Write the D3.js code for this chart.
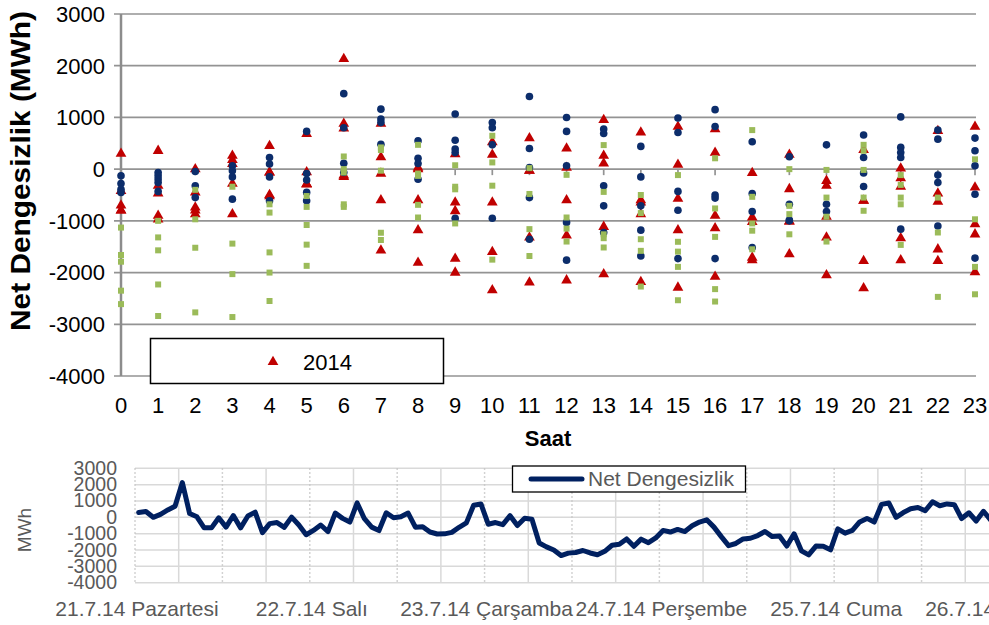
<!DOCTYPE html>
<html>
<head>
<meta charset="utf-8">
<script src="https://cdn.jsdelivr.net/npm/d3@7/dist/d3.min.js"></script>
<style>
  body { margin: 0; background: #fff; }
  svg { display: block; font-family: "Liberation Sans", Arial, sans-serif; }
</style>
</head>
<body>
<svg id="chart" width="989" height="625"></svg>
<script>
// saatler ve eksen degerleri
const hours = d3.range(24)
const topTicks = [3000, 2000, 1000, 0, -1000, -2000, -3000, -4000]
const bottomTicks = [3000, 2000, 1000, 0, -1000, -2000, -3000, -4000]
const dayLabels = ["21.7.14 Pazartesi", "22.7.14 Salı", "23.7.14 Çarşamba", "24.7.14 Perşembe", "25.7.14 Cuma", "26.7.14 Cumartesi"]

// mavi daireler (saat basina)
const blueByHour = [
  [-130, -280, -390, -450], [-65, -130, -190, -260, -430], [-45, -320, -550], [65, -30, -150, -580],
  [225, 100, -150, -610], [730, -85, -210, -450, -610], [1460, 800, 115, -65], [1160, 970, 900, 480],
  [550, 210, 110, -195], [1065, 560, 390, 320, -950], [900, 800, 470, -950], [1405, 400, 30, -550, -1355],
  [1000, 730, 65, -1030, -1760], [775, 690, -320, -710, -1225], [440, -150, -710, -1180, -1680], [990, 710, -430, -795, -1730],
  [1150, 825, -500, -560, -1730], [530, -470, -820, -1515], [240, -680, -1000, -985], [470, -680, -820],
  [660, 225, -75, -335], [1010, 420, 320, 225, -1160], [755, 580, -115, -260, -1100], [600, 355, 65, -485, -1720]
]

// yesil kareler (saat basina)
const greenByHour = [
  [-1130, -1660, -1790, -2350, -2610], [-1000, -1320, -1570, -2230, -2840], [-400, -970, -1520, -2770], [-340, -1440, -2030, -2860],
  [-680, -840, -1610, -2000, -2550], [-520, -730, -1080, -1460, -1870], [245, 0, -65, -680, -730], [420, 370, -30, -1230, -1370],
  [470, -85, -130, -690, -935], [75, -340, -390, -1050], [645, 130, -320, -1750], [20, -480, -1160, -1680],
  [-110, -935, -1150, -1400], [465, -440, -1260, -1335, -1515], [-500, -850, -1355, -1580, -2270], [-115, -1405, -1595, -1890, -2535],
  [210, -760, -1310, -2320, -2560], [755, -535, -1050, -1190, -1550], [0, -710, -870, -1260], [-15, -550, -920, -1400],
  [470, 355, -15, -550, -805], [-115, -305, -550, -680, -1465], [-550, -1225, -2470], [190, -970, -1890, -2420]
]

// 2014 net dengesizlik, saatlik (21-25.7.14)
const mon2014 = [300, 355, 0, 180, 450, 680, 2130, 230, 30, -645, -645, -30, -600, 110, -645, 85, 320, -935, -385, -320, -610, 15, -470, -1065]
const tue2014 = [-800, -470, -870, 260, -65, -290, 880, -85, -600, -810, 280, -30, 30, 260, -600, -570, -900, -1020, -1010, -920, -610, -340, 740, 820]
const wed2014 = [-420, -320, -450, 100, -500, -60, -120, -1570, -1810, -2000, -2340, -2190, -2150, -2030, -2180, -2290, -2080, -1710, -1645, -1320, -1775, -1335, -1550, -1260]
const thu2014 = [-800, -900, -740, -870, -520, -290, -150, -600, -1180, -1730, -1600, -1320, -1280, -1115, -870, -1180, -1140, -1760, -1010, -2050, -2300, -1760, -1775, -1990]
const fri2014 = [-700, -970, -800, -280, -65, -290, 790, 880, 0, 290, 520, 600, 400, 950, 710, 820, 775, -75, 280, -225, 370, -175, -630, -355]
const week2014 = [].concat(mon2014, tue2014, wed2014, thu2014, fri2014)

const svg = d3.select("#chart")
const navy = "#0c2d6b", red = "#c00000", green = "#9bbb59", navyLine = "#002060"

// ---------- ust grafik ----------
const x = d3.scaleLinear().domain([0, 23]).range([121, 975])
const y = d3.scaleLinear().domain([-4000, 3000]).range([376, 14])
const top_g = svg.append("g")

top_g.selectAll(".grid").data(topTicks).join("line")
  .attr("x1", 114).attr("x2", 976)
  .attr("y1", d => y(d)).attr("y2", d => y(d))
  .attr("stroke", "#939393").attr("stroke-width", 1.7)

top_g.append("line")
  .attr("x1", x(0)).attr("x2", x(0)).attr("y1", y(3000)).attr("y2", y(-4000))
  .attr("stroke", "#8c8c8c").attr("stroke-width", 2.5)

top_g.selectAll(".htick").data(hours).join("line")
  .attr("x1", d => x(d)).attr("x2", d => x(d))
  .attr("y1", y(0)).attr("y2", y(0) + 6)
  .attr("stroke", "#939393").attr("stroke-width", 1.7)

top_g.selectAll(".ylab").data(topTicks).join("text")
  .attr("x", 105).attr("y", d => y(d)).attr("dy", "0.36em")
  .attr("text-anchor", "end").attr("font-size", 22).attr("fill", "#000")
  .text(d => d)

top_g.selectAll(".xlab").data(hours).join("text")
  .attr("x", d => x(d)).attr("y", 413)
  .attr("text-anchor", "middle").attr("font-size", 22).attr("fill", "#000")
  .text(d => d)

top_g.append("text")
  .attr("transform", "translate(29.5," + 171 + ") rotate(-90)")
  .attr("text-anchor", "middle").attr("font-size", 28).attr("font-weight", "bold")
  .attr("textLength", 320).attr("lengthAdjust", "spacingAndGlyphs")
  .text("Net Dengesizlik (MWh)")

top_g.append("text")
  .attr("x", 548).attr("y", 446).attr("text-anchor", "middle")
  .attr("font-size", 22).attr("font-weight", "bold")
  .text("Saat")

const tri = d3.symbol(d3.symbolTriangle, 50)
const sq = d3.symbol(d3.symbolSquare, 36)

top_g.append("g").selectAll("path").data(week2014).join("path")
  .attr("d", tri)
  .attr("transform", (d, i) => "translate(" + x(i % 24) + "," + y(d) + ")")
  .attr("fill", red)

top_g.append("g").selectAll("circle")
  .data(blueByHour.flatMap((vals, h) => vals.map(v => [h, v])))
  .join("circle")
  .attr("cx", d => x(d[0])).attr("cy", d => y(d[1])).attr("r", 3.8)
  .attr("fill", navy)

top_g.append("g").selectAll("path")
  .data(greenByHour.flatMap((vals, h) => vals.map(v => [h, v])))
  .join("path")
  .attr("d", sq)
  .attr("transform", d => "translate(" + x(d[0]) + "," + y(d[1]) + ")")
  .attr("fill", green)

// lejant
top_g.append("rect")
  .attr("x", 150.5).attr("y", 338.5).attr("width", 293).attr("height", 45)
  .attr("fill", "#fff").attr("stroke", "#000").attr("stroke-width", 1.5)
top_g.append("path").attr("d", tri).attr("transform", "translate(273,362)").attr("fill", red)
top_g.append("text").attr("x", 303).attr("y", 370).attr("font-size", 22).text("2014")

// ---------- alt grafik ----------
const xb = d3.scaleLinear().domain([0, 120]).range([135, 135 + 7.283 * 120])
const yb = d3.scaleLinear().domain([-4000, 3000]).range([582.7, 468.3])
const bot_g = svg.append("g")
const vHours = d3.range(0, 145, 6)

bot_g.selectAll(".hgrid").data(bottomTicks).join("line")
  .attr("x1", 135).attr("x2", 989)
  .attr("y1", d => yb(d)).attr("y2", d => yb(d))
  .attr("stroke", "#d9d9d9").attr("stroke-width", 1.5)

bot_g.selectAll(".vgrid").data(vHours).join("line")
  .attr("x1", d => xb(d)).attr("x2", d => xb(d))
  .attr("y1", yb(3000)).attr("y2", yb(-4000))
  .attr("stroke", d => d % 12 === 0 ? "#c4c4c4" : "#d9d9d9")
  .attr("stroke-width", 1.5)
  .attr("stroke-dasharray", d => d % 12 === 0 ? "1.5,2.5" : null)

bot_g.selectAll(".yblab").data(bottomTicks).join("text")
  .attr("x", 117).attr("y", d => yb(d) + 6.5)
  .attr("text-anchor", "end").attr("font-size", 19.5).attr("fill", "#595959")
  .text(d => d)

bot_g.selectAll(".daylab").data(dayLabels).join("text")
  .attr("x", (d, i) => xb(i * 24) + 2).attr("y", 616)
  .attr("text-anchor", "middle").attr("font-size", 21).attr("fill", "#595959")
  .text(d => d)

bot_g.append("text")
  .attr("transform", "translate(31,530) rotate(-90)")
  .attr("text-anchor", "middle").attr("font-size", 19).attr("fill", "#595959")
  .text("MWh")

const line = d3.line().x((d, i) => xb(i + 0.5)).y(d => yb(d))
bot_g.append("path").datum(week2014)
  .attr("d", line).attr("fill", "none")
  .attr("stroke", navyLine).attr("stroke-width", 5)
  .attr("stroke-linejoin", "round").attr("stroke-linecap", "round")

bot_g.append("rect")
  .attr("x", 512.5).attr("y", 466).attr("width", 233).attr("height", 26)
  .attr("fill", "#fff").attr("stroke", "#000").attr("stroke-width", 1.3)
bot_g.append("line")
  .attr("x1", 531).attr("x2", 582).attr("y1", 479).attr("y2", 479)
  .attr("stroke", navyLine).attr("stroke-width", 5).attr("stroke-linecap", "round")
bot_g.append("text").attr("x", 588).attr("y", 486)
  .attr("font-size", 21).attr("fill", "#595959").text("Net Dengesizlik")
</script>
</body>
</html>
